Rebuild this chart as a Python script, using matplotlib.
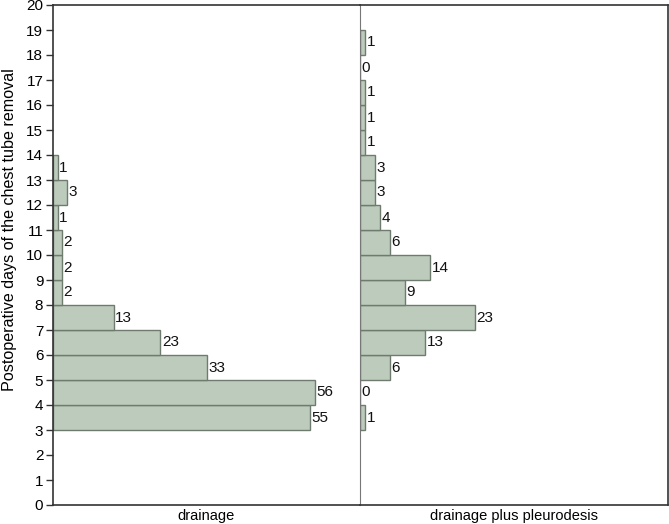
import numpy as np
import matplotlib.pyplot as plt

plt.rcParams['font.family'] = ['Liberation Sans', 'DejaVu Sans']

# bins: postoperative day of chest tube removal (lower edge)
days_drainage = [3, 4, 5, 6, 7, 8, 9, 10, 11, 12, 13]
counts_drainage = [55, 56, 33, 23, 13, 2, 2, 2, 1, 3, 1]

days_pleuro = [3, 4, 5, 6, 7, 8, 9, 10, 11, 12, 13, 14, 15, 16, 17, 18]
counts_pleuro = [1, 0, 6, 13, 23, 9, 14, 6, 4, 3, 3, 1, 1, 1, 0, 1]

group_labels = ['drainage', 'drainage plus pleurodesis']

face = '#bccbbb'
edge = '#6f7b6f'
dark = '#333333'

fig = plt.figure(figsize=(6.69, 5.24), dpi=100)
W, H = 669, 524
ax1 = fig.add_axes([53 / W, 19 / H, (360 - 53) / W, 500 / H])
ax2 = fig.add_axes([360 / W, 19 / H, (668 - 360) / W, 500 / H])

panels = [(ax1, days_drainage, counts_drainage, 65.7),
          (ax2, days_pleuro, counts_pleuro, 61.6)]

for ax, days, counts, xmax in panels:
    ax.barh(days, counts, height=1, align='edge', color=face,
            edgecolor=edge, linewidth=1)
    for d, c in zip(days, counts):
        ax.text(c + 0.3, d + 0.5, str(c), va='center', ha='left',
                fontsize=11, color='#111111')
    ax.set_xlim(0, xmax)
    ax.set_ylim(0, 20)
    ax.set_xticks([])
    for s in ['top', 'bottom']:
        ax.spines[s].set_color(dark)
        ax.spines[s].set_linewidth(1.2)

ax1.set_yticks(range(0, 21))
ax1.tick_params(axis='y', direction='out', length=5, width=1,
                color=dark, labelsize=11, pad=2)
ax1.spines['left'].set_color(dark)
ax1.spines['left'].set_linewidth(1.2)
ax1.spines['right'].set_visible(False)
ax1.set_ylabel('Postoperative days of the chest tube removal', fontsize=11.6)
ax1.yaxis.set_label_coords(-0.117, 0.55)
ax1.set_xlabel(group_labels[0], fontsize=10.5, labelpad=3)

ax2.set_yticks([])
ax2.spines['left'].set_color('#777777')
ax2.spines['left'].set_linewidth(0.8)
ax2.spines['right'].set_color(dark)
ax2.spines['right'].set_linewidth(1.2)
ax2.set_xlabel(group_labels[1], fontsize=10.5, labelpad=3)

fig.savefig('out.png', dpi=100)
